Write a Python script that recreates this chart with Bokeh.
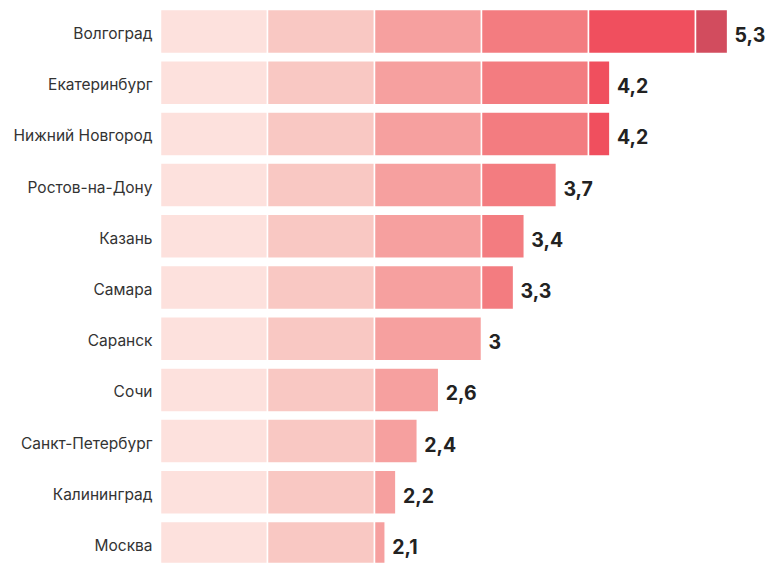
from bokeh.plotting import figure
from bokeh.models import Range1d, ColumnDataSource
from bokeh.core.properties import value
from bokeh.embed import file_html
from bokeh.resources import INLINE

cities = ["Волгоград", "Екатеринбург", "Нижний Новгород", "Ростов-на-Дону", "Казань",
          "Самара", "Саранск", "Сочи", "Санкт-Петербург", "Калининград", "Москва"]
values = [5.3, 4.2, 4.2, 3.7, 3.4, 3.3, 3.0, 2.6, 2.4, 2.2, 2.1]
value_labels = ["5,3", "4,2", "4,2", "3,7", "3,4", "3,3", "3", "2,6", "2,4", "2,2", "2,1"]
bands = [0, 1, 2, 3, 4, 5, 6]
band_colors = ["#fde1dd", "#f9c8c3", "#f6a09f", "#f37c80", "#f04f5e", "#d24c5e"]

W, H = 765, 563
zero_px, unit_px = 160, 107.0
row0_px, pitch = 31.0, 51.2

p = figure(width=W, height=H, output_backend="svg", toolbar_location=None,
           x_range=Range1d(-zero_px / unit_px, (W - zero_px) / unit_px),
           y_range=Range1d((H - row0_px) / pitch, -row0_px / pitch),
           x_axis_type=None, y_axis_type=None, min_border=0)
p.outline_line_color = None
p.xgrid.visible = False
p.ygrid.visible = False
p.background_fill_color = "white"
p.border_fill_color = "white"

ys = list(range(len(cities)))
left, right, yy, col = [], [], [], []
for i, v in enumerate(values):
    for k in range(len(bands) - 1):
        lo, hi = bands[k], bands[k + 1]
        if v <= lo:
            break
        left.append(lo)
        right.append(min(v, hi))
        yy.append(i)
        col.append(band_colors[k])

seg = ColumnDataSource(dict(left=left, right=right, y=yy, color=col))
p.hbar(y="y", left="left", right="right", height=44 / pitch, fill_color="color",
       line_color="white", line_width=1.5, source=seg)

src = ColumnDataSource(dict(x=values, y=ys, lab=value_labels, city=cities, zero=[0] * len(cities)))
p.text(x="zero", y="y", text="city", source=src, x_offset=-8, y_offset=2,
       text_align="right", text_baseline="middle", text_font=value("Inter"),
       text_font_size="15.5px", text_color="#333333")
p.text(x="x", y="y", text="lab", source=src, x_offset=7, y_offset=3,
       text_align="left", text_baseline="middle", text_font=value("Inter"),
       text_font_style="bold", text_font_size="19.5px", text_color="#222222")

open("out.html", "w").write(file_html(p, INLINE))
